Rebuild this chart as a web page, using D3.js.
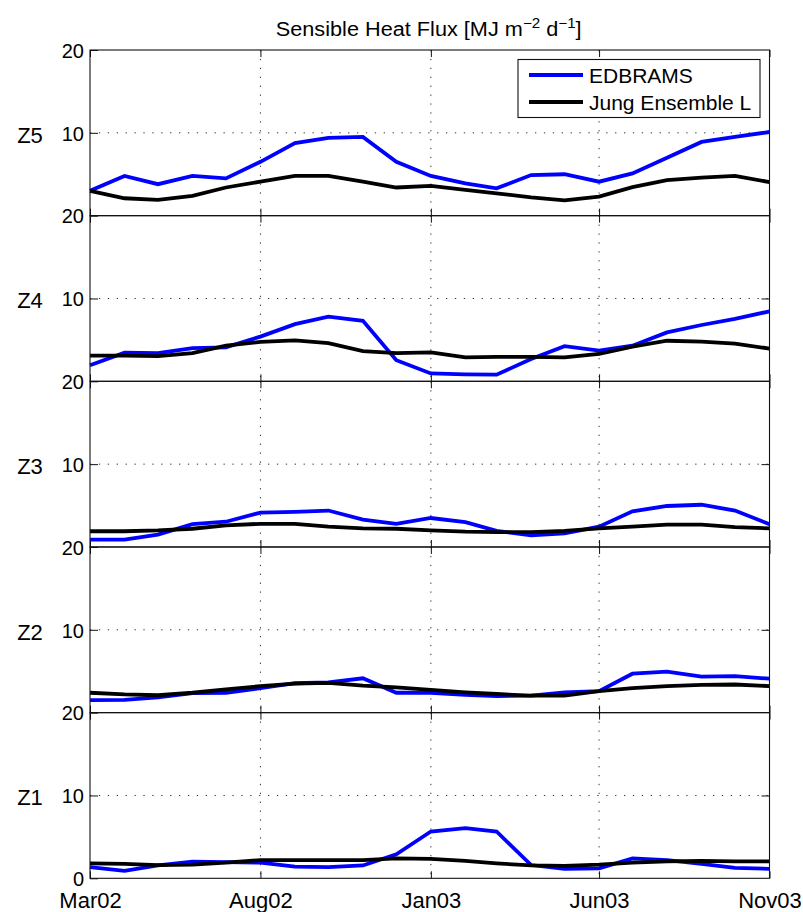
<!DOCTYPE html>
<html><head><meta charset="utf-8">
<script src="https://cdn.jsdelivr.net/npm/d3@7"></script>
<style>
body{margin:0;background:#fff}
text{font-family:"Liberation Sans",Arial,Helvetica,sans-serif;fill:#000}
</style>
</head><body>
<svg id="c" width="803" height="912"></svg>
<script>
// ---- data ----
const months = ["2002-03","2002-04","2002-05","2002-06","2002-07","2002-08","2002-09","2002-10","2002-11","2002-12",
  "2003-01","2003-02","2003-03","2003-04","2003-05","2003-06","2003-07","2003-08","2003-09","2003-10","2003-11"];
const xTickMonths = ["2002-03","2002-08","2003-01","2003-06","2003-11"];
const xTickLabels = ["Mar02","Aug02","Jan03","Jun03","Nov03"];
const zones = ["Z5","Z4","Z3","Z2","Z1"];
const yTicks = [0,10,20];
const seriesNames = ["EDBRAMS","Jung Ensemble L"];

const edbrams_Z5 = [3.0,4.8,3.8,4.8,4.5,6.5,8.75,9.4,9.5,6.5,4.8,3.9,3.3,4.9,5.0,4.1,5.1,7.0,8.9,9.5,10.1];
const edbrams_Z4 = [1.95,3.45,3.4,4.0,4.1,5.4,6.9,7.8,7.3,2.55,0.95,0.85,0.8,2.7,4.25,3.7,4.3,5.9,6.8,7.55,8.45];
const edbrams_Z3 = [0.9,0.9,1.5,2.75,3.05,4.15,4.25,4.4,3.3,2.8,3.5,3.0,1.95,1.4,1.65,2.45,4.3,4.95,5.1,4.4,2.75];
const edbrams_Z2 = [1.5,1.55,1.85,2.35,2.4,2.95,3.55,3.65,4.15,2.4,2.4,2.15,2.0,2.05,2.45,2.6,4.7,4.95,4.35,4.4,4.1];
const edbrams_Z1 = [1.35,0.9,1.55,2.0,1.95,1.9,1.4,1.35,1.55,2.9,5.65,6.05,5.65,1.6,1.15,1.2,2.4,2.2,1.75,1.25,1.15];

const jung_Z5 = [3.0,2.1,1.9,2.4,3.4,4.1,4.8,4.8,4.1,3.4,3.6,3.1,2.7,2.2,1.85,2.3,3.45,4.3,4.6,4.8,4.05];
const jung_Z4 = [3.1,3.1,3.05,3.4,4.3,4.75,4.95,4.6,3.65,3.4,3.5,2.9,2.95,2.95,2.9,3.3,4.2,4.9,4.8,4.55,3.95];
const jung_Z3 = [1.9,1.9,2.0,2.2,2.6,2.8,2.8,2.45,2.25,2.2,2.0,1.85,1.8,1.8,1.95,2.25,2.45,2.7,2.7,2.4,2.25];
const jung_Z2 = [2.4,2.2,2.1,2.4,2.8,3.2,3.5,3.6,3.25,3.05,2.75,2.45,2.25,2.05,2.05,2.6,2.95,3.2,3.35,3.4,3.2];
const jung_Z1 = [1.8,1.75,1.6,1.65,1.9,2.2,2.2,2.2,2.2,2.4,2.35,2.1,1.8,1.55,1.5,1.65,1.9,2.05,2.1,2.05,2.05];

const edbrams = [edbrams_Z5, edbrams_Z4, edbrams_Z3, edbrams_Z2, edbrams_Z1];
const jung = [jung_Z5, jung_Z4, jung_Z3, jung_Z2, jung_Z1];
const colors = ["#0000ff","#000000"];

// ---- layout ----
const svg = d3.select("#c");
const L = 90, R = 769.5, T = 50, B = 878.3;
const nP = zones.length;
const pH = (B - T) / nP;
const parse = d3.timeParse("%Y-%m");
const dates = months.map(parse);
const x = d3.scaleTime().domain([dates[0], dates[dates.length-1]]).range([L, R]);
const tickDates = xTickMonths.map(parse);
const gridDates = tickDates.slice(1, -1);

zones.forEach((z, i) => {
  const top = T + i * pH, bot = top + pH;
  const y = d3.scaleLinear().domain([0, 20]).range([bot, top]);
  const g = svg.append("g");

  // grid
  g.append("line").attr("x1", L).attr("x2", R).attr("y1", y(10)).attr("y2", y(10))
    .attr("stroke", "#333").attr("stroke-width", 1).attr("stroke-dasharray", "1.3,7.6");
  gridDates.forEach(d => {
    g.append("line").attr("x1", x(d)).attr("x2", x(d)).attr("y1", top).attr("y2", bot)
      .attr("stroke", "#333").attr("stroke-width", 1).attr("stroke-dasharray", "1.3,7.6");
  });

  // axes (inner ticks)
  const ax = (sel) => sel.call(s => s.select(".domain").remove())
    .call(s => s.selectAll(".tick line").attr("stroke", "#111"));
  g.append("g").attr("transform", `translate(0,${top})`)
    .call(d3.axisTop(x).tickValues(tickDates).tickSize(-7).tickFormat(""))
    .call(ax);
  const xb = g.append("g").attr("transform", `translate(0,${bot})`)
    .call(d3.axisBottom(x).tickValues(tickDates).tickSize(-7).tickPadding(16)
      .tickFormat((d, k) => i === nP - 1 ? xTickLabels[k] : ""))
    .call(ax);
  xb.selectAll("text").attr("font-size", 22).attr("y", 9).attr("dy", "0.95em");

  const yl = g.append("g").attr("transform", `translate(${L},0)`)
    .call(d3.axisLeft(y).tickValues(i === nP - 1 ? yTicks : yTicks.slice(1)).tickSize(-8).tickPadding(7))
    .call(ax);
  yl.selectAll("text").attr("font-size", 20).attr("x", -6).attr("dy", "0.36em");
  g.append("g").attr("transform", `translate(${R},0)`)
    .call(d3.axisRight(y).tickValues([10]).tickSize(-8).tickFormat(""))
    .call(ax);

  // series
  const line = d3.line().x((d, k) => x(dates[k])).y(d => y(d));
  [edbrams[i], jung[i]].forEach((vals, s) => {
    g.append("path").datum(vals).attr("d", line).attr("fill", "none")
      .attr("stroke", colors[s]).attr("stroke-width", 3.8)
      .attr("stroke-linejoin", "miter").attr("stroke-miterlimit", 3);
  });

  // frame
  g.append("rect").attr("x", L).attr("y", top).attr("width", R - L).attr("height", pH)
    .attr("fill", "none").attr("stroke", "#111").attr("stroke-width", 1.1);

  // zone label
  g.append("text").attr("x", 30).attr("y", y(10) + 10).attr("text-anchor", "middle")
    .attr("font-size", 22).text(z);
});

// title
const title = svg.append("text").attr("x", 0).attr("y", 0).attr("font-size", 20);
title.append("tspan").text("Sensible Heat Flux [MJ m");
title.append("tspan").attr("font-size", 14).attr("dy", -8).text("\u22122");
title.append("tspan").attr("dy", 8).text(" d");
title.append("tspan").attr("font-size", 14).attr("dy", -8).text("\u22121");
title.append("tspan").attr("dy", 8).text("]");
const tw = title.node().getComputedTextLength();
const sc = 306 / tw;
title.attr("transform", `translate(${(L + R) / 2 - 153 - 1},35.5) scale(${sc},1)`);

// legend
const lg = svg.append("g");
lg.append("rect").attr("x", 518).attr("y", 59.5).attr("width", 242).attr("height", 58)
  .attr("fill", "#fff").attr("stroke", "#111").attr("stroke-width", 1.1);
seriesNames.forEach((n, s) => {
  const yy = [75, 102][s];
  lg.append("line").attr("x1", 529).attr("x2", 583).attr("y1", yy).attr("y2", yy)
    .attr("stroke", colors[s]).attr("stroke-width", 3.8);
  lg.append("text").attr("x", 589).attr("y", yy + 8).attr("font-size", 21).text(n);
});
</script>
</body></html>
